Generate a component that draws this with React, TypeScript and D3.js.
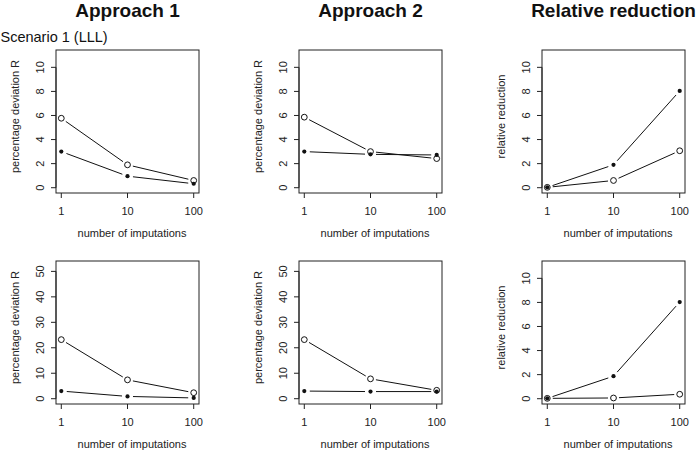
import React from 'react';
import * as d3 from 'd3';

const imputations = [1, 10, 100];
const imputationLabels = ['1', '10', '100'];
const columnTitles = ['Approach 1', 'Approach 2', 'Relative reduction'];
const rowLabel = 'Scenario 1 (LLL)';
const yLabels = ['percentage deviation R', 'percentage deviation R', 'relative reduction'];
const xLabel = 'number of imputations';

// Top row
const topA1Open = [5.77, 1.9, 0.6];
const topA1Filled = [3.0, 0.96, 0.33];
const topA2Open = [5.86, 3.0, 2.42];
const topA2Filled = [3.0, 2.77, 2.72];
const topRelFilled = [0.03, 1.9, 8.04];
const topRelOpen = [0.03, 0.6, 3.07];

// Bottom row
const botA1Open = [23.2, 7.4, 2.35];
const botA1Filled = [3.0, 0.9, 0.3];
const botA2Open = [23.2, 7.8, 3.3];
const botA2Filled = [3.0, 2.8, 2.8];
const botRelFilled = [0.03, 1.87, 8.03];
const botRelOpen = [0.03, 0.06, 0.37];

const yTicksSmall = [0, 2, 4, 6, 8, 10];
const yTicksLarge = [0, 10, 20, 30, 40, 50];
const yMaxSmall = 11;
const yMaxLarge = 52;

const panels = [
  { row: 0, col: 0, open: topA1Open, filled: topA1Filled, ticks: yTicksSmall, ymax: yMaxSmall },
  { row: 0, col: 1, open: topA2Open, filled: topA2Filled, ticks: yTicksSmall, ymax: yMaxSmall },
  { row: 0, col: 2, open: topRelOpen, filled: topRelFilled, ticks: yTicksSmall, ymax: yMaxSmall },
  { row: 1, col: 0, open: botA1Open, filled: botA1Filled, ticks: yTicksLarge, ymax: yMaxLarge },
  { row: 1, col: 1, open: botA2Open, filled: botA2Filled, ticks: yTicksLarge, ymax: yMaxLarge },
  { row: 1, col: 2, open: botRelOpen, filled: botRelFilled, ticks: yTicksSmall, ymax: yMaxSmall },
];

const W = 698;
const H = 455;
const boxLeft = [56, 299, 542];
const boxW = 143;
const boxTop = [50, 261];
const boxH = 143;
const FONT = '"Liberation Sans", Arial, Helvetica, sans-serif';
const GAP = 5.5;

function Series({ pts, open }: { pts: [number, number][]; open: boolean }) {
  const segs = [];
  for (let i = 0; i < pts.length - 1; i++) {
    const [x1, y1] = pts[i];
    const [x2, y2] = pts[i + 1];
    const dx = x2 - x1, dy = y2 - y1;
    const len = Math.hypot(dx, dy);
    if (len <= 2 * GAP) continue;
    const ux = dx / len, uy = dy / len;
    segs.push(
      <line key={i} x1={x1 + ux * GAP} y1={y1 + uy * GAP} x2={x2 - ux * GAP} y2={y2 - uy * GAP}
        stroke="#111" strokeWidth={1} />
    );
  }
  return (
    <g>
      {segs}
      {pts.map(([x, y], i) =>
        open ? (
          <circle key={'p' + i} cx={x} cy={y} r={2.9} fill="none" stroke="#111" strokeWidth={1} />
        ) : (
          <circle key={'p' + i} cx={x} cy={y} r={2.1} fill="#111" />
        )
      )}
    </g>
  );
}

function Panel({ p }: { p: (typeof panels)[number] }) {
  const L = boxLeft[p.col];
  const T = boxTop[p.row];
  const R = L + boxW;
  const B = T + boxH;
  const x = d3.scaleLog().domain([Math.pow(10, -0.08), Math.pow(10, 2.08)]).range([L, R]);
  const y = d3.scaleLinear().domain([-0.04 * p.ymax, 1.04 * p.ymax]).range([B, T]);
  const openPts = imputations.map((m, i) => [x(m), y(p.open[i])] as [number, number]);
  const filledPts = imputations.map((m, i) => [x(m), y(p.filled[i])] as [number, number]);
  const cx = (L + R) / 2;
  const cy = (T + B) / 2;
  return (
    <g>
      <rect x={L} y={T} width={boxW} height={boxH} fill="none" stroke="#222" strokeWidth={1} />
      {/* y axis */}
      <line x1={L} x2={L} y1={y(p.ticks[0])} y2={y(p.ticks[p.ticks.length - 1])} stroke="#222" />
      {p.ticks.map((t) => (
        <g key={'yt' + t}>
          <line x1={L - 5} x2={L} y1={y(t)} y2={y(t)} stroke="#222" />
          <text transform={`translate(${L - 12.5},${y(t)}) rotate(-90)`} textAnchor="middle"
            fontFamily={FONT} fontSize={11} fill="#222">{t}</text>
        </g>
      ))}
      {/* x axis */}
      {imputations.map((m, i) => (
        <g key={'xt' + m}>
          <line x1={x(m)} x2={x(m)} y1={B} y2={B + 5} stroke="#222" />
          <text x={x(m)} y={B + 21.5} textAnchor="middle" fontFamily={FONT} fontSize={11} fill="#222">
            {imputationLabels[i]}
          </text>
        </g>
      ))}
      <text x={cx + 4.5} y={B + 43.5} textAnchor="middle" fontFamily={FONT} fontSize={11} fill="#222">
        {xLabel}
      </text>
      <text transform={`translate(${L - 37},${cy - 5}) rotate(-90)`} textAnchor="middle"
        fontFamily={FONT} fontSize={11} fill="#222">{yLabels[p.col]}</text>
      <Series pts={openPts} open={true} />
      <Series pts={filledPts} open={false} />
    </g>
  );
}

export default function App() {
  return (
    <svg width={W} height={H} style={{ position: 'absolute', left: 0, top: 0, background: '#fff' }}>
      <rect x={0} y={0} width={W} height={H} fill="#fff" />
      {columnTitles.map((t, i) => (
        <text key={t} x={boxLeft[i] + boxW / 2} y={17} textAnchor="middle" fontFamily={FONT}
          fontSize={19} fontWeight="bold" fill="#111">{t}</text>
      ))}
      <text x={0.5} y={42} fontFamily={FONT} fontSize={14.5} fill="#111">{rowLabel}</text>
      {panels.map((p, i) => (
        <Panel key={i} p={p} />
      ))}
    </svg>
  );
}
